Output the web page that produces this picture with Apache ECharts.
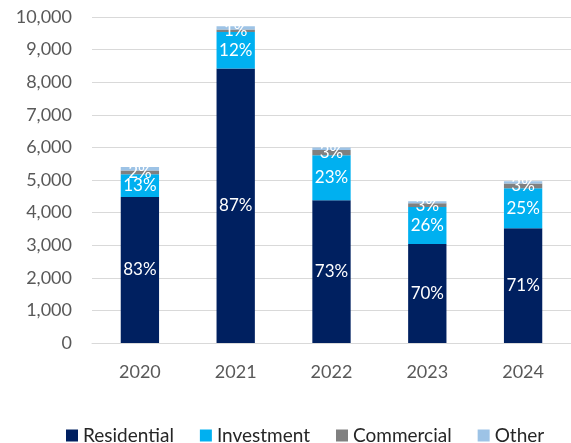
<!DOCTYPE html>
<html>
<head>
<meta charset="utf-8">
<script src="https://cdn.jsdelivr.net/npm/echarts@6/dist/echarts.min.js"></script>
<style>
  html, body { margin: 0; padding: 0; background: #fff; }
  #chart { width: 571px; height: 443px; }
</style>
</head>
<body>
<div id="chart"></div>
<script>
// Yearly totals split by segment
const years = ['2020', '2021', '2022', '2023', '2024'];
const residential = [4480, 8420, 4380, 3040, 3520];
const investment = [700, 1120, 1380, 1130, 1230];
const commercial = [110, 80, 160, 120, 140];
const other = [110, 100, 80, 60, 70];

const totals = years.map((_, i) => residential[i] + investment[i] + commercial[i] + other[i]);

const FONT = 'Lato, "Open Sans", sans-serif';

// Segment share of the year's total, rounded to a whole percent
function pctLabel(params) {
  return Math.round(params.value / totals[params.dataIndex] * 100) + '%';
}

function segment(name, data, color, showLabel) {
  return {
    name: name,
    type: 'bar',
    stack: 'total',
    barWidth: '40%',
    data: data,
    itemStyle: { color: color },
    label: {
      show: showLabel,
      position: 'inside',
      color: '#ffffff',
      fontFamily: FONT,
      fontSize: 17,
      formatter: pctLabel
    }
  };
}

const chart = echarts.init(document.getElementById('chart'));
chart.setOption({
  animation: false,
  backgroundColor: '#ffffff',
  grid: { left: 92, right: -5, top: 17, bottom: 100, containLabel: false },
  legend: {
    left: 61,
    top: 421,
    width: 509,
    itemWidth: 12,
    itemHeight: 12,
    itemGap: 26,
    icon: 'rect',
    textStyle: { fontFamily: FONT, fontSize: 19, color: '#262626' },
    data: ['Residential', 'Investment', 'Commercial', 'Other']
  },
  xAxis: {
    type: 'category',
    data: years,
    axisLine: { show: true, lineStyle: { color: '#D9D9D9', width: 1 } },
    axisTick: { show: false },
    axisLabel: { margin: 20, fontFamily: FONT, fontSize: 18, color: '#595959' }
  },
  yAxis: {
    type: 'value',
    min: 0,
    max: 10000,
    interval: 1000,
    axisLine: { show: false },
    axisTick: { show: false },
    splitLine: { lineStyle: { color: '#D9D9D9', width: 1 } },
    axisLabel: {
      margin: 20,
      fontFamily: FONT,
      fontSize: 18,
      color: '#595959',
      formatter: v => v.toLocaleString('en-US')
    }
  },
  series: [
    segment('Residential', residential, '#002060', true),
    segment('Investment', investment, '#00B0F0', true),
    segment('Commercial', commercial, '#808080', true),
    segment('Other', other, '#9DC3E6', false)
  ]
});
</script>
</body>
</html>
